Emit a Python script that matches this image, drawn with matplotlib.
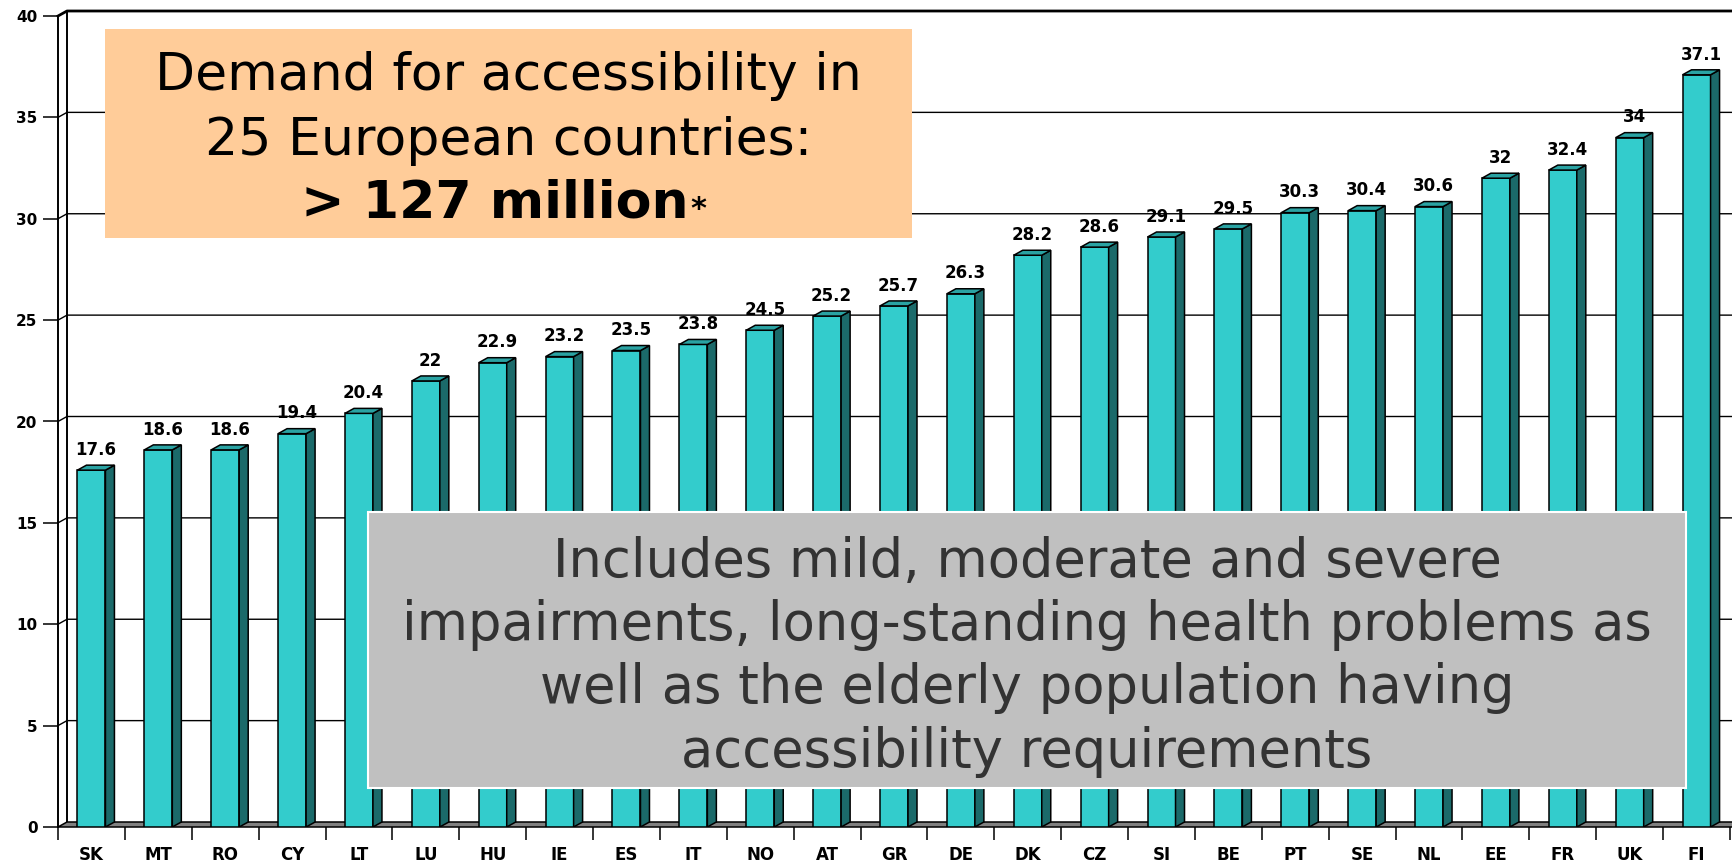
import numpy as np
import matplotlib.pyplot as plt
from matplotlib.patches import Polygon, Rectangle

countries = ['SK', 'MT', 'RO', 'CY', 'LT', 'LU', 'HU', 'IE', 'ES', 'IT', 'NO', 'AT', 'GR',
             'DE', 'DK', 'CZ', 'SI', 'BE', 'PT', 'SE', 'NL', 'EE', 'FR', 'UK', 'FI']
values = [17.6, 18.6, 18.6, 19.4, 20.4, 22, 22.9, 23.2, 23.5, 23.8, 24.5, 25.2, 25.7,
          26.3, 28.2, 28.6, 29.1, 29.5, 30.3, 30.4, 30.6, 32, 32.4, 34, 37.1]
value_labels = ['17.6', '18.6', '18.6', '19.4', '20.4', '22', '22.9', '23.2', '23.5', '23.8',
                '24.5', '25.2', '25.7', '26.3', '28.2', '28.6', '29.1', '29.5', '30.3', '30.4',
                '30.6', '32', '32.4', '34', '37.1']
yticks = [0, 5, 10, 15, 20, 25, 30, 35, 40]

title_lines = ['Demand for accessibility in', '25 European countries:']
title_bold = '> 127 million'
note_lines = ['Includes mild, moderate and severe',
              'impairments, long-standing health problems as',
              'well as the elderly population having',
              'accessibility requirements']

W, H = 1733, 863
fig = plt.figure(figsize=(W / 100, H / 100), dpi=100)
fig.patch.set_facecolor('white')

# plot area in pixels
x0, x1 = 58, W
y_zero, y_top = 827, 16
cat_w = (1730 - 58) / 25
ax = fig.add_axes([x0 / W, (H - y_zero) / H, (x1 - x0) / W, (y_zero - y_top) / H])
xmax = -0.5 + (x1 - x0) / cat_w
ax.set_xlim(-0.5, xmax)
ax.set_ylim(0, 40)
for s in ax.spines.values():
    s.set_visible(False)
ax.patch.set_visible(False)

# 3d depth in data units (9px right, 5px up)
dx = 9 / cat_w
dy = 5 / ((y_zero - y_top) / 40)
bw = 28 / cat_w

front = '#33CCCC'
side = '#1B6A6A'
top = '#2AA3A3'
lw = 1.1

# floor
ax.add_patch(Polygon([(-0.5, 0), (xmax + 1, 0), (xmax + 1, dy), (-0.5 + dx, dy)],
                     closed=True, facecolor='#808080', edgecolor='black', lw=lw,
                     zorder=1, clip_on=False))

# back wall gridlines + left wall
for v in yticks[1:]:
    ax.plot([-0.5, -0.5 + dx, xmax + 1], [v, v + dy, v + dy], color='black',
            lw=2.0 if v == 40 else 1.0, zorder=0.5, clip_on=False)
ax.plot([-0.5, -0.5], [0, 40], color='black', lw=1.4, zorder=2, clip_on=False)
ax.plot([-0.5 + dx, -0.5 + dx], [dy, 40 + dy], color='black', lw=1.4, zorder=0.5, clip_on=False)

# bars
x = np.arange(len(countries))
ax.bar(x, values, width=bw, color=front, edgecolor='black', lw=lw, zorder=3)
for xi, v, lab in zip(x, values, value_labels):
    r = xi + bw / 2
    l = xi - bw / 2
    ax.add_patch(Polygon([(r, 0), (r + dx, dy), (r + dx, v + dy), (r, v)], closed=True,
                         facecolor=side, edgecolor='black', lw=lw, zorder=3))
    ax.add_patch(Polygon([(l, v), (r, v), (r + dx, v + dy), (l + dx, v + dy)], closed=True,
                         facecolor=top, edgecolor='black', lw=lw, zorder=3))
    ax.annotate(lab, (xi + dx / 2, v), xytext=(0, 11), textcoords='offset points',
                ha='center', va='baseline', fontsize=12, fontweight='bold', zorder=4)

# ticks
ax.set_yticks(yticks)
ax.set_yticklabels([str(t) for t in yticks], fontsize=11, fontweight='bold')
ax.tick_params(axis='y', length=10.8, width=1.1, pad=4)
ax.set_xticks(np.arange(-0.5, 25, 1))
ax.set_xticklabels([])
ax.tick_params(axis='x', which='major', length=9.4, width=1.1)
ax.set_xticks(x, minor=True)
ax.set_xticklabels(countries, minor=True, fontsize=12, fontweight='bold')
ax.tick_params(axis='x', which='minor', length=0, pad=14)

# orange headline box
def px(xp, yp):
    return xp / W, (H - yp) / H

fig.add_artist(Rectangle(px(105, 238), 807 / W, 209 / H, transform=fig.transFigure,
                         facecolor='#FFCC99', edgecolor='none', zorder=10))
cx = 508.5
for line, base in zip(title_lines, [90, 155]):
    fig.text(*px(cx, base), line, ha='center', va='baseline', fontsize=37.5, zorder=11)
t = fig.text(*px(cx - 14, 218), title_bold, ha='center', va='baseline', fontsize=37.5,
             fontweight='bold', zorder=11)
fig.canvas.draw()
bb = t.get_window_extent()
fig.text(bb.x1 / W + 2 / W, (H - 218) / H, '*', ha='left', va='baseline', fontsize=22,
         fontweight='bold', zorder=11)

# grey note box
fig.add_artist(Rectangle(px(368, 788), (1686 - 368) / W, (788 - 512) / H,
                         transform=fig.transFigure, facecolor='#C0C0C0', edgecolor='white',
                         lw=1.5, zorder=10))
for line, base in zip(note_lines, [577, 640, 703, 767]):
    fig.text(*px(1027, base), line, ha='center', va='baseline', fontsize=38,
             color='#333333', zorder=11)

fig.savefig('out.png', dpi=100)
